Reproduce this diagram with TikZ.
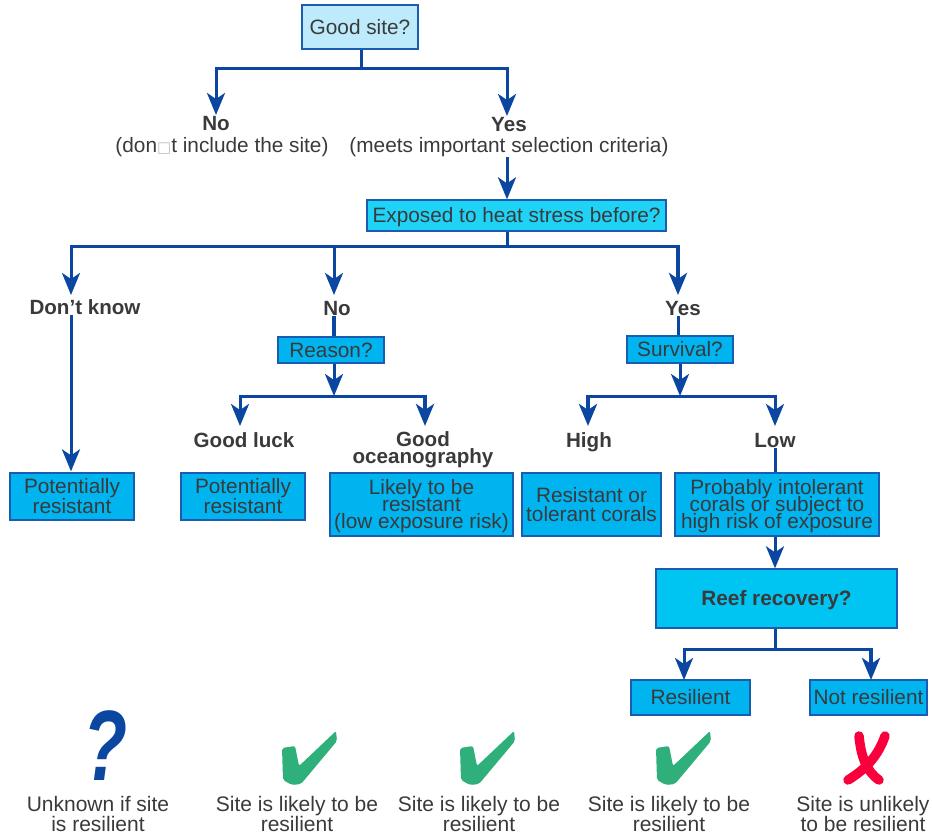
\documentclass[tikz,border=0pt]{standalone}
\usepackage{fontspec}
\setmainfont{Liberation Sans}
\newfontfamily\symfont{DejaVu Sans}
\usetikzlibrary{arrows.meta}
\lineskiplimit=-30pt
\lineskip=0pt
\definecolor{linkblue}{HTML}{0B47A1}
\definecolor{edgeblue}{HTML}{1A5DB0}
\definecolor{fillpale}{HTML}{BDEBFB}
\definecolor{fillcyan}{HTML}{1FD3F7}
\definecolor{fillsky}{HTML}{00B4F0}
\definecolor{fillreef}{HTML}{00C5F2}
\definecolor{inktext}{HTML}{3A3A3C}
\definecolor{okgreen}{HTML}{2FB07B}
\definecolor{nored}{HTML}{F9003C}
\tikzset{
  x=1pt,y=-1pt,
  every node/.style={text=inktext,inner sep=0pt,align=center,font=\fontsize{20.8}{17}\selectfont},
  wide/.style={font=\fontsize{20.8}{20}\selectfont},
  qbox/.style={draw=edgeblue,line width=1.3pt,fill=fillsky},
  lab/.style={font=\fontsize{20.6}{17}\selectfont\bfseries},
  subtxt/.style={font=\fontsize{20.8}{20}\selectfont},
  captxt/.style={font=\fontsize{21}{20}\selectfont},
  conn/.style={draw=linkblue,line width=3pt,-{Stealth[length=22pt,width=18pt,inset=6pt]}},
  wire/.style={draw=linkblue,line width=3pt},
  checkmark/.pic={\fill[okgreen,rounded corners=2pt] (2,18) -- (15,16) -- (19,36) -- (56,1) -- (57,11) -- (21,54) -- (12,55) -- (3,50) -- cycle;},
  crossmark/.pic={\draw[nored,line width=9.5pt,line cap=round] (27,5) .. controls (20,25) and (8,38) .. (-10,49) (1,5) .. controls (3,25) and (8,40) .. (21,49);}
}
\begin{document}
\begin{tikzpicture}
\useasboundingbox (0,0) rectangle (932,835);
% boxes
\node[qbox,fill=fillpale,minimum width=116pt,minimum height=44pt] (good) at (360,27) {Good site?};
\node[qbox,fill=fillcyan,minimum width=299pt,minimum height=31pt] (heat) at (516.5,215.5) {\raisebox{-7pt}[0pt][0pt]{Exposed to heat stress before?}};
\node[qbox,minimum width=106pt,minimum height=26pt] (reason) at (331,350) {Reason?};
\node[qbox,minimum width=106pt,minimum height=27pt] (surv) at (680,349.5) {Survival?};
\node[qbox,wide,minimum width=124pt,minimum height=47pt] (pr1) at (72,496.5) {Potentially\\resistant};
\node[qbox,wide,minimum width=124pt,minimum height=47pt] (pr2) at (243,496.5) {Potentially\\resistant};
\node[qbox,minimum width=183pt,minimum height=63pt] (low) at (421.5,504.5) {\rule{0pt}{19pt}Likely to be\\resistant\\(low exposure risk)};
\node[qbox,font=\fontsize{20.8}{19}\selectfont,minimum width=139pt,minimum height=63pt] (rt) at (591.5,504.5) {Resistant or\\tolerant corals};
\node[qbox,minimum width=204pt,minimum height=63pt] (pi) at (777,504.5) {\rule{0pt}{19pt}Probably intolerant\\corals or subject to\\high risk of exposure};
\node[qbox,fill=fillreef,minimum width=241pt,minimum height=59pt,font=\fontsize{20.8}{20}\selectfont\bfseries] (reef) at (776.5,598.5) {\raisebox{-7pt}[0pt][0pt]{Reef recovery?}};
\node[qbox,minimum width=119pt,minimum height=35pt] (res) at (690.5,697.5) {Resilient};
\node[qbox,minimum width=117pt,minimum height=35pt] (nres) at (868.5,697.5) {\raisebox{1pt}{Not resilient}};
% labels
\node[lab] (no1) at (216,124) {No};
\node[subtxt] (no1s) at (222,147) {(don{\symfont\color{lightgray}\fontsize{15}{15}\selectfont □}t include the site)};
\node[lab] (yes1) at (509,125) {Yes};
\node[subtxt] (yes1s) at (509,147) {(meets important selection criteria)};
\node[lab] (dk) at (85,307) {Don’t know};
\node[lab] (no2) at (337,309) {No};
\node[lab] (yes2) at (683,309) {Yes};
\node[lab] (luck) at (244,440) {Good luck};
\node[lab] (ocean) at (423,450) {Good\\oceanography};
\node[lab] (high) at (589,442) {High};
\node[lab] (lowl) at (775,440.5) {Low};
% junctions
\coordinate (j1) at (361,68);
\coordinate (j2) at (507,246);
\coordinate (j3) at (334,396);
\coordinate (j4) at (680,396);
\coordinate (j5) at (775,649);
\coordinate (a1) at (216,115);
\coordinate (a2) at (507,116);
\coordinate (a3) at (71,295);
\coordinate (a4) at (334,295);
\coordinate (a5) at (678,295);
\coordinate (a6) at (240,426);
\coordinate (a7) at (425,426);
\coordinate (a8) at (588,426);
\coordinate (a9) at (775,426);
\coordinate (a10) at (684,680);
\coordinate (a11) at (871,680);
% connectors
\draw[wire] (good.south -| j1) -- (j1);
\draw[conn] (j1) -| (a1);
\draw[conn] (j1) -| (a2);
\draw[conn] (yes1s.south -| a2) -- (heat.north -| a2);
\draw[wire] (heat.south -| j2) -- (j2);
\draw[conn] (j2) -| (a3);
\draw[conn] (j2) -| (a4);
\draw[wire] (j2) -- ([xshift=2pt]j2 -| a5);
\draw[conn,line width=4pt] ([yshift=1.5pt]j2 -| a5) -- (a5);
\draw[conn] (dk.south -| a3) -- ([yshift=1pt]pr1.north -| a3);
\draw[wire,line width=4pt] (no2.south -| a4) -- (reason.north -| a4);
\draw[wire] (yes2.south -| a5) -- (surv.north -| a5);
\draw[conn] (reason.south -| j3) -- (j3);
\draw[conn] (j3) -| (a6);
\draw[wire] (j3) -- ([xshift=2pt]j3 -| a7);
\draw[conn,line width=4pt] ([yshift=1.5pt]j3 -| a7) -- (a7);
\draw[conn] (surv.south -| j4) -- (j4);
\draw[wire] (j4) -- ([xshift=-2pt]j4 -| a8);
\draw[conn,line width=4pt] ([yshift=1.5pt]j4 -| a8) -- (a8);
\draw[conn] (j4) -| (a9);
\draw[wire] (lowl.south -| a9) -- (pi.north -| a9);
\draw[conn] (pi.south -| a9) -- (reef.north -| a9);
\draw[wire] (reef.south -| j5) -- (j5);
\draw[conn] (j5) -| (a10);
\draw[wire] (j5) -- ([xshift=2pt]j5 -| a11);
\draw[conn,line width=4pt] ([yshift=1.5pt]j5 -| a11) -- (a11);
% outcome marks
\node[font=\fontsize{100}{100}\selectfont\bfseries\itshape,text=linkblue] (qm) at (105,746) {\scalebox{.72}[1]{?}};
\pic at (280,730) {checkmark};
\pic at (458,730) {checkmark};
\pic at (654,730) {checkmark};
\pic at (858,731) {crossmark};
% outcome captions
\node[captxt] (c1) at (98,814) {Unknown if site\\is resilient};
\node[captxt] (c2) at (297,814) {Site is likely to be\\resilient};
\node[captxt] (c3) at (479,814) {Site is likely to be\\resilient};
\node[captxt] (c4) at (669,814) {Site is likely to be\\resilient};
\node[captxt] (c5) at (863,814) {Site is unlikely\\to be resilient};
\end{tikzpicture}
\end{document}
